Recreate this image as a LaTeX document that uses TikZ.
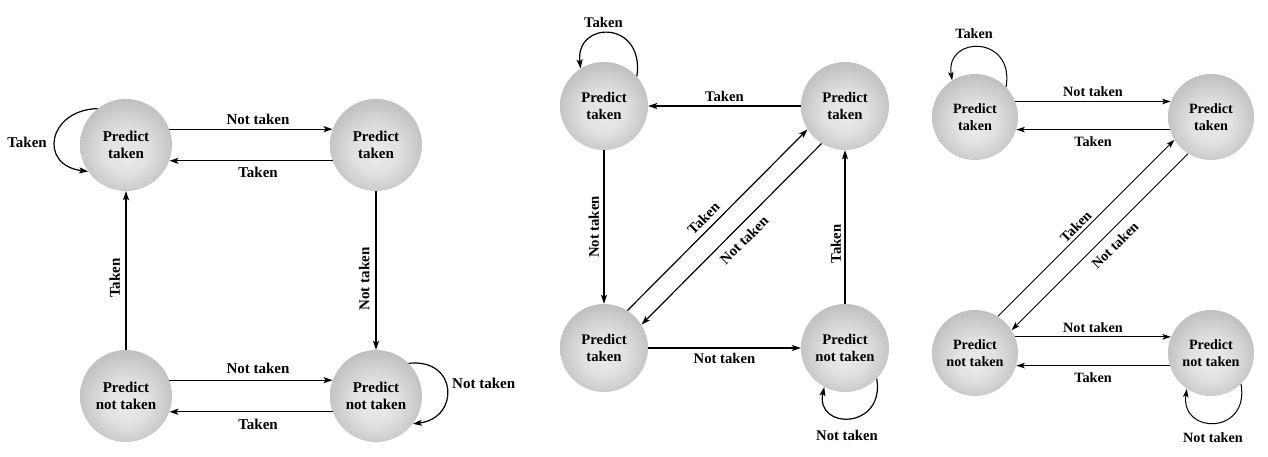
\documentclass[tikz,border=0pt]{standalone}
\usepackage{fontspec}
\setmainfont{Liberation Serif}
\usetikzlibrary{arrows.meta}
\pgfdeclareradialshading{ball}{\pgfpoint{0bp}{-5bp}}{color(0bp)=(black!8); color(12bp)=(black!12); color(30bp)=(black!27); color(44bp)=(black!40); color(50bp)=(black!46)}
\begin{document}
\begin{tikzpicture}[x=1pt,y=-1pt,
  st/.style={circle, inner sep=0pt, shading=ball, align=center},
  stA/.style={st, minimum size=92pt, font=\bfseries\fontsize{15}{17}\selectfont},
  stB/.style={st, minimum size=88pt, font=\bfseries\fontsize{14.7}{16.7}\selectfont},
  stC/.style={st, minimum size=86pt, font=\bfseries\fontsize{14.2}{16.4}\selectfont},
  arr/.style={-{Stealth[length=9pt,width=6pt,inset=2pt]}, line width=1.2pt},
  arrC/.style={-{Stealth[length=8.5pt,width=5.5pt,inset=2pt]}, line width=1pt},
  labA/.style={inner sep=0pt, font=\bfseries\fontsize{15}{17}\selectfont},
  labB/.style={inner sep=0pt, font=\bfseries\fontsize{14.7}{16.7}\selectfont},
  labC/.style={inner sep=0pt, font=\bfseries\fontsize{14.2}{16.4}\selectfont}
]
\useasboundingbox (0,0) rectangle (1268,457);

% ---------- left diagram ----------
\node[stA] (A) at (126,145) {Predict\\taken};
\node[stA] (B) at (376,145) {Predict\\taken};
\node[stA] (C) at (126,396) {Predict\\not taken};
\node[stA] (D) at (376,396) {Predict\\not taken};

\draw[arr] (A.20) -- node[labA, pos=.543, above=3.5pt] (a1) {Not taken} (B.160);
\draw[arr] (B.200) -- node[labA, pos=.457, below=5.5pt] (a2) {Taken} (A.-20);
\draw[arr] (B.south) -- node[labA, pos=.553, rotate=90, anchor=south, outer sep=6.5pt] (a3) {Not taken} (D.north);
\draw[arr] (C.north) -- node[labA, pos=.453, rotate=90, anchor=south, outer sep=6pt] (a4) {Taken} (A.south);
\draw[arr] (C.20) -- node[labA, pos=.543, above=5.5pt] (a5) {Not taken} (D.160);
\draw[arr] (D.200) -- node[labA, pos=.457, below=6.5pt] (a6) {Taken} (C.-20);
\draw[arr] (A.128) .. controls (48,110) and (38,165) .. (A.215);
\node[labA, anchor=east] (a7) at (47,142) {Taken};
\draw[arr] (D.45) .. controls (458,358) and (460,418) .. (D.-37);
\node[labA, anchor=west] (a8) at (452,383) {Not taken};

% ---------- middle diagram ----------
\node[stB] (E) at (604,106) {Predict\\taken};
\node[stB] (F) at (845,106) {Predict\\taken};
\node[stB] (G) at (604,348) {Predict\\taken};
\node[stB] (H) at (845,348) {Predict\\not taken};

\draw[arr] (F.west) -- node[labB, above=3.5pt] (b1) {Taken} (E.east);
\draw[arr] (E.south) -- node[labB, rotate=90, anchor=south, outer sep=5pt] (b2) {Not taken} (G.north);
\draw[arr] (G.east) -- node[labB, below=4.5pt] (b3) {Not taken} (H.west);
\draw[arr] (H.north) -- node[labB, pos=.39, rotate=90, anchor=south, outer sep=4pt] (b4) {Taken} (F.south);
\draw[arr] (G.58) -- node[labB, pos=.466, rotate=45, anchor=south, outer sep=6pt] (b5) {Taken} (F.212);
\draw[arr] (F.238) -- node[labB, pos=.482, rotate=45, anchor=north, outer sep=8pt] (b6) {Not taken} (G.32);
\draw[arr] (E.42) .. controls (645,20) and (575,20) .. (E.122);
\node[labB] (b7) at (603.5,22) {Taken};
\draw[arr] (H.-44) .. controls (885,430) and (815,430) .. (H.-118);
\node[labB] (b8) at (847,435) {Not taken};

% ---------- right diagram ----------
\node[stC] (I) at (975,117) {Predict\\taken};
\node[stC] (J) at (1211,117) {Predict\\taken};
\node[stC] (K) at (975,353) {Predict\\not taken};
\node[stC] (L) at (1211,353) {Predict\\not taken};

\draw[arrC] (I.21) -- node[labC, above=4pt] (c1) {Not taken} (J.159);
\draw[arrC] (J.197) -- node[labC, below=7pt] (c2) {Taken} (I.-17);
\draw[arrC] (K.22) -- node[labC, above=4pt] (c3) {Not taken} (L.158);
\draw[arrC] (L.197.5) -- node[labC, below=7pt] (c4) {Taken} (K.-17.5);
\draw[arrC] (K.58) -- node[labC, pos=.475, rotate=45, anchor=south, outer sep=3.5pt] (c5) {Taken} (J.212);
\draw[arrC] (J.238) -- node[labC, pos=.466, rotate=45, anchor=north, outer sep=8pt] (c6) {Not taken} (K.32);
\draw[arrC] (I.44) .. controls (1015,35) and (945,35) .. (I.122);
\node[labC] (c7) at (974,34) {Taken};
\draw[arrC] (L.-46) .. controls (1250,435) and (1180,435) .. (L.-124);
\node[labC] (c8) at (1213,438) {Not taken};
\end{tikzpicture}
\end{document}
